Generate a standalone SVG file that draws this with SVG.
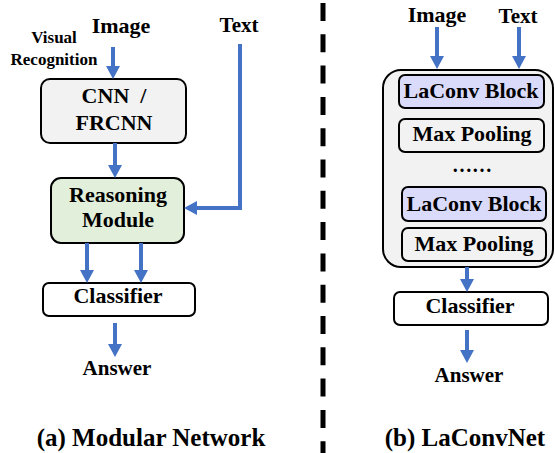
<svg xmlns="http://www.w3.org/2000/svg" width="555" height="453" viewBox="0 0 555 453" font-family="Liberation Serif, DejaVu Serif, serif" font-weight="bold">
  <style>
    text { font-family: "Liberation Serif", "DejaVu Serif", serif; font-weight: 700; fill: #000; text-anchor: middle; }
    .t22 { font-size: 22px; }
    .t21 { font-size: 21px; }
    .t17 { font-size: 17px; }
    .dots { font-size: 20px; }
    .cap { font-size: 25px; }
    .box { stroke: #000; stroke-width: 2; }
    .grey { fill: #f2f2f2; }
    .green { fill: #e2efda; }
    .lav { fill: #dadafa; }
    .white { fill: #ffffff; }
    .flow { fill: none; stroke: #4472c4; stroke-width: 4; marker-end: url(#head); }
  </style>
  <defs>
    <marker id="head" markerUnits="userSpaceOnUse" markerWidth="14" markerHeight="14" refX="3" refY="7" orient="auto">
      <path d="M0,0 L13,7 L0,14 Z" fill="#4472c4"/>
    </marker>
  </defs>
  <rect width="555" height="453" fill="#ffffff"/>

  <!-- divider between the two panels -->
  <line x1="323" y1="3" x2="323" y2="453" stroke="#000" stroke-width="5" stroke-dasharray="18 13.3"/>

  <!-- (a) Modular Network -->
  <g id="a-inputs">
    <text class="t22" x="121" y="33">Image</text>
    <text class="t21" x="239" y="32">Text</text>
    <text class="t17" x="54" y="43">Visual</text>
    <text class="t17" x="54" y="65">Recognition</text>
  </g>
  <g id="a-cnn">
    <rect class="box grey" x="41" y="79" width="145" height="64" rx="9"/>
    <text class="t22" x="114" y="103" xml:space="preserve">CNN  /</text>
    <text class="t22" x="114" y="130">FRCNN</text>
  </g>
  <g id="a-reasoning">
    <rect class="box green" x="51" y="178" width="133" height="65" rx="10"/>
    <text class="t22" x="118" y="202">Reasoning</text>
    <text class="t22" x="118" y="227">Module</text>
  </g>
  <g id="a-classifier">
    <rect class="box white" x="43" y="283" width="152" height="33" rx="6"/>
    <text class="t22" x="118" y="303">Classifier</text>
  </g>
  <g id="a-answer">
    <text class="t21" x="117" y="375">Answer</text>
  </g>
  <g id="a-caption">
    <text class="cap" x="151" y="446">(a) Modular Network</text>
  </g>

  <!-- (b) LaConvNet -->
  <g id="b-inputs">
    <text class="t22" x="437" y="22">Image</text>
    <text class="t21" x="518" y="23">Text</text>
  </g>
  <g id="b-stack">
    <rect class="box grey" x="383" y="70" width="170" height="197" rx="18"/>
  </g>
  <g id="b-laconv1">
    <rect class="box lav" x="399" y="75" width="145" height="33" rx="6"/>
    <text class="t22" x="471" y="98">LaConv Block</text>
  </g>
  <g id="b-pool1">
    <rect class="box grey" x="399" y="119" width="145" height="33" rx="6"/>
    <text class="t22" x="472" y="141">Max Pooling</text>
  </g>
  <g id="b-ellipsis">
    <text class="dots" x="472" y="172">……</text>
  </g>
  <g id="b-laconv2">
    <rect class="box lav" x="402" y="187" width="144" height="34" rx="6"/>
    <text class="t22" x="474" y="211">LaConv Block</text>
  </g>
  <g id="b-pool2">
    <rect class="box grey" x="402" y="228" width="144" height="33" rx="6"/>
    <text class="t22" x="474" y="251">Max Pooling</text>
  </g>
  <g id="b-classifier">
    <rect class="box white" x="394" y="292" width="154" height="33" rx="6"/>
    <text class="t22" x="470" y="313">Classifier</text>
  </g>
  <g id="b-answer">
    <text class="t21" x="469" y="382">Answer</text>
  </g>
  <g id="b-caption">
    <text class="cap" x="465" y="446">(b) LaConvNet</text>
  </g>

  <!-- connectors -->
  <g id="connectors">
    <path class="flow" d="M113,47 V69"/>
    <path class="flow" d="M115,143 V168"/>
    <path class="flow" d="M240,44 V208 H194"/>
    <path class="flow" d="M87,243 V273"/>
    <path class="flow" d="M141,243 V273"/>
    <path class="flow" d="M115,323 V347"/>
    <path class="flow" d="M437,27 V59"/>
    <path class="flow" d="M519,27 V59"/>
    <path class="flow" d="M467,267 V282"/>
    <path class="flow" d="M467,330 V353"/>
  </g>
</svg>
